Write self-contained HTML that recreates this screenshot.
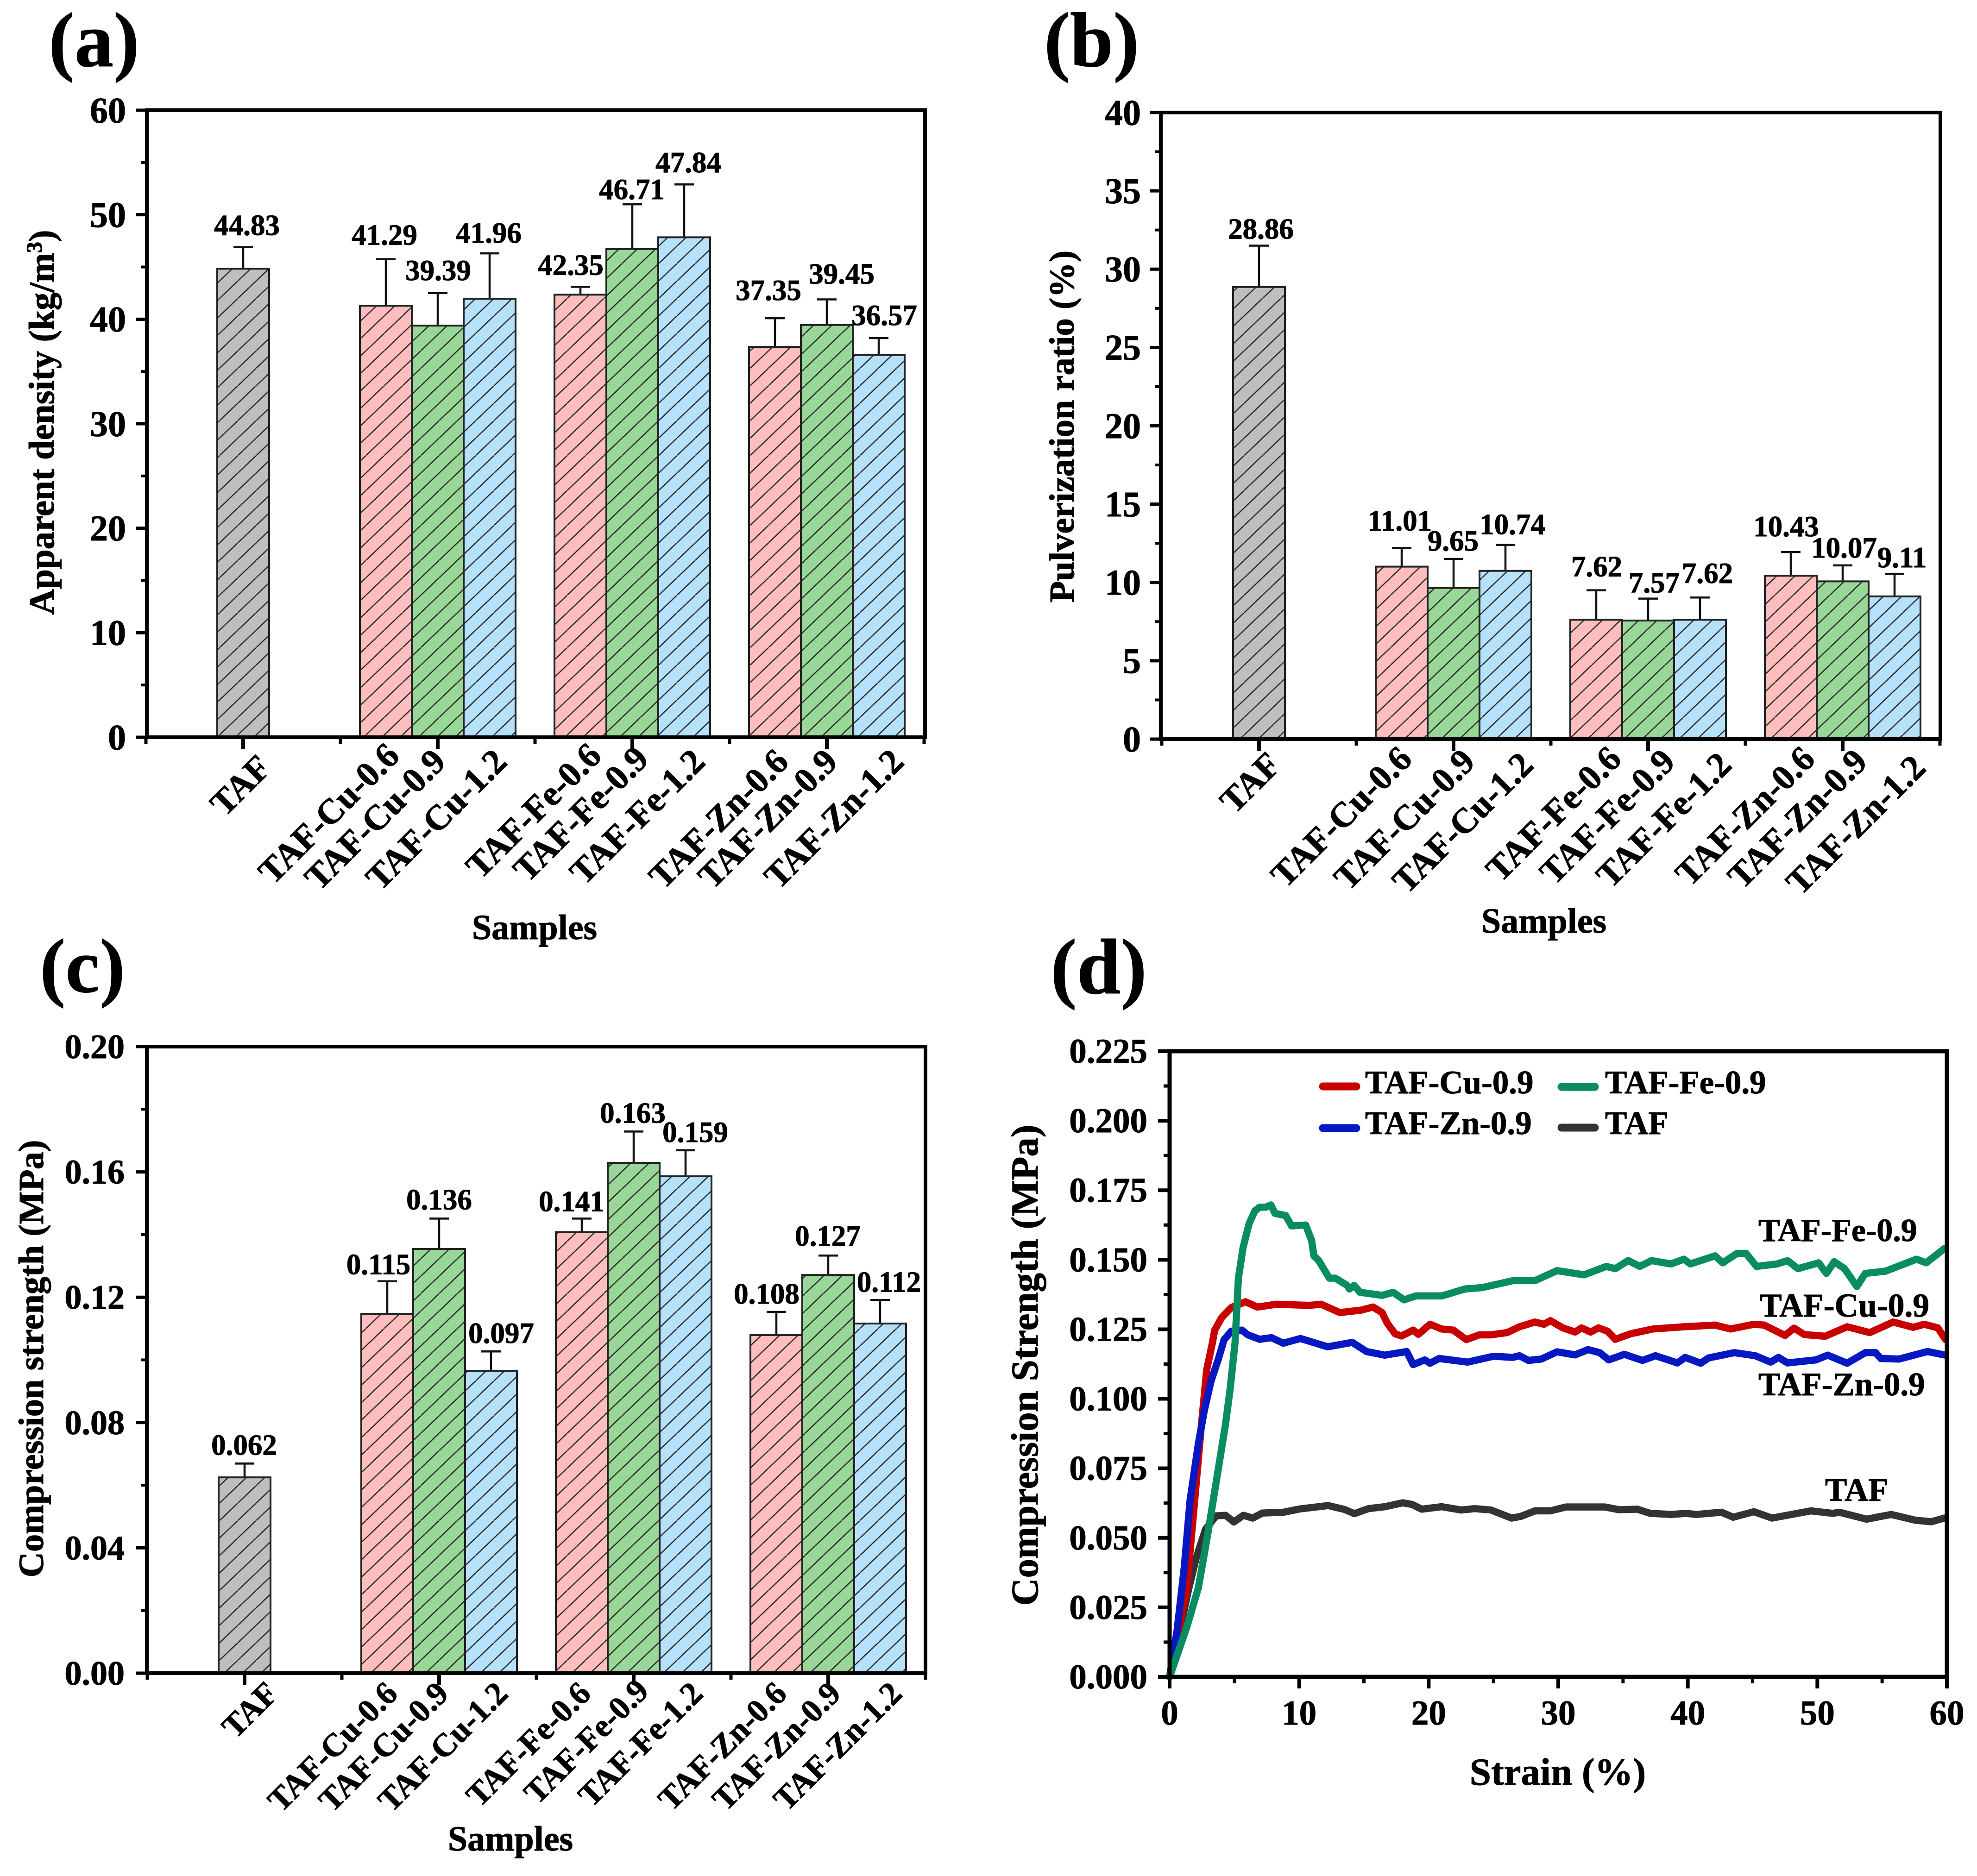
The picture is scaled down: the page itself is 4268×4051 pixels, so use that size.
<!DOCTYPE html>
<html lang="en">
<head>
<meta charset="utf-8">
<title>TAF foam properties</title>
<style>
html,body{margin:0;padding:0;background:#fff;}
svg{display:block;}
text{font-family:"Liberation Serif",serif;font-weight:bold;fill:#000;stroke:#000;stroke-width:1px;}
</style>
</head>
<body>
<svg id="figure" xmlns="http://www.w3.org/2000/svg" width="4268" height="4051" viewBox="0 0 4268 4051">
<defs>
<pattern id="hatch-gray" patternUnits="userSpaceOnUse" width="39.5" height="37.7" patternTransform="translate(0 3.5)"><rect width="39.5" height="37.7" fill="#bebebe"/><path d="M-39.5 37.7L0 0M0 37.7L39.5 0M39.5 37.7L79 0" stroke="#2a2a2a" stroke-width="2.6" fill="none"/></pattern>
<pattern id="hatch-pink" patternUnits="userSpaceOnUse" width="39.5" height="37.7" patternTransform="translate(0 3.5)"><rect width="39.5" height="37.7" fill="#ffbebe"/><path d="M-39.5 37.7L0 0M0 37.7L39.5 0M39.5 37.7L79 0" stroke="#2a2a2a" stroke-width="2.6" fill="none"/></pattern>
<pattern id="hatch-green" patternUnits="userSpaceOnUse" width="39.5" height="37.7" patternTransform="translate(0 3.5)"><rect width="39.5" height="37.7" fill="#98d798"/><path d="M-39.5 37.7L0 0M0 37.7L39.5 0M39.5 37.7L79 0" stroke="#2a2a2a" stroke-width="2.6" fill="none"/></pattern>
<pattern id="hatch-blue" patternUnits="userSpaceOnUse" width="39.5" height="37.7" patternTransform="translate(0 3.5)"><rect width="39.5" height="37.7" fill="#b6e1fb"/><path d="M-39.5 37.7L0 0M0 37.7L39.5 0M39.5 37.7L79 0" stroke="#2a2a2a" stroke-width="2.6" fill="none"/></pattern>
</defs>

<g id="panel-a">
<text x="105" y="143" font-size="168">(a)</text>
<text transform="translate(116 912) rotate(-90)" text-anchor="middle" font-size="77">Apparent density (kg/m<tspan dy="-26" font-size="48">3</tspan><tspan dy="26">)</tspan></text>
<text x="1154" y="2028" text-anchor="middle" font-size="76">Samples</text>
</g>
<g id="panel-b">
<text x="2254" y="143" font-size="168">(b)</text>
<text transform="translate(2318 921) rotate(-90)" text-anchor="middle" font-size="76.5">Pulverization ratio (%)</text>
<text x="3333" y="2014" text-anchor="middle" font-size="76">Samples</text>
</g>
<g id="panel-c">
<text x="86" y="2142" font-size="166">(c)</text>
<text transform="translate(93 2934) rotate(-90)" text-anchor="middle" font-size="76.5">Compression strength (MPa)</text>
<text x="1102" y="3996" text-anchor="middle" font-size="76">Samples</text>
</g>
<g id="panel-d">
<text x="2268" y="2145" font-size="170">(d)</text>
<text transform="translate(2240 2948) rotate(-90)" text-anchor="middle" font-size="83">Compression Strength (MPa)</text>
<text x="3363" y="3854" text-anchor="middle" font-size="83">Strain (%)</text>
<g id="curves-d"></g>
<g id="axes-d"></g>
<g>
<g><line x1="2856" y1="2346" x2="2928" y2="2346" stroke="#c80000" stroke-width="17" stroke-linecap="round"/><text x="2947" y="2361" font-size="71">TAF-Cu-0.9</text></g>
<g><line x1="3371" y1="2347" x2="3443" y2="2347" stroke="#0a8c62" stroke-width="17" stroke-linecap="round"/><text x="3465" y="2361" font-size="71">TAF-Fe-0.9</text></g>
<g><line x1="2856" y1="2436" x2="2928" y2="2436" stroke="#0518c2" stroke-width="17" stroke-linecap="round"/><text x="2947" y="2449" font-size="71">TAF-Zn-0.9</text></g>
<g><line x1="3371" y1="2435" x2="3443" y2="2435" stroke="#333333" stroke-width="17" stroke-linecap="round"/><text x="3465" y="2449" font-size="71">TAF</text></g>
</g>
<text x="3796" y="2680" font-size="70">TAF-Fe-0.9</text>
<text x="3799" y="2843" font-size="71.5">TAF-Cu-0.9</text>
<text x="3796" y="3013" font-size="71">TAF-Zn-0.9</text>
<text x="3940" y="3241" font-size="71">TAF</text>
</g>
</svg>

<script>
const categories = ["TAF","TAF-Cu-0.6","TAF-Cu-0.9","TAF-Cu-1.2","TAF-Fe-0.6","TAF-Fe-0.9","TAF-Fe-1.2","TAF-Zn-0.6","TAF-Zn-0.9","TAF-Zn-1.2"];

const densityValues = [44.83,41.29,39.39,41.96,42.35,46.71,47.84,37.35,39.45,36.57];
const densityErrors = [2.07,4.46,3.11,4.34,0.75,4.29,5.06,2.75,2.45,1.63];
const densityLabels = ["44.83","41.29","39.39","41.96","42.35","46.71","47.84","37.35","39.45","36.57"];
const densityTicks = ["0","10","20","30","40","50","60"];

const pulverValues = [28.86,11.01,9.65,10.74,7.62,7.57,7.62,10.43,10.07,9.11];
const pulverErrors = [2.64,1.19,1.85,1.66,1.88,1.40,1.42,1.51,1.02,1.44];
const pulverLabels = ["28.86","11.01","9.65","10.74","7.62","7.57","7.62","10.43","10.07","9.11"];
const pulverTicks = ["0","5","10","15","20","25","30","35","40"];

const strengthValues = [0.0625,0.1147,0.1354,0.0965,0.1408,0.1629,0.1586,0.1079,0.1271,0.1116];
const strengthErrors = [0.0044,0.0104,0.0097,0.0062,0.0043,0.0100,0.0083,0.0074,0.0062,0.0075];
const strengthLabels = ["0.062","0.115","0.136","0.097","0.141","0.163","0.159","0.108","0.127","0.112"];
const strengthTicks = ["0.00","0.04","0.08","0.12","0.16","0.20"];

const curveXTicks = ["0","10","20","30","40","50","60"];
const curveYTicks = ["0.000","0.025","0.050","0.075","0.100","0.125","0.150","0.175","0.200","0.225"];

const strainCu = [0,1.31,1.86,2.4,2.86,3.3,3.48,4.03,4.76,5.85,6.77,8.23,10.78,11.7,13.15,14.8,15.7,16.4,16.8,17.4,17.9,18.8,19.2,20.1,21,21.9,22.9,23.9,24.8,26.05,27,28.2,28.9,29.4,30.35,31.3,31.8,32.5,33.1,33.8,34.4,35.6,37.3,39.7,42.1,43.3,45.1,45.9,47.5,48.2,49,50.6,52.3,54.05,55.85,57.4,58.25,59.3,59.9];
const stressCu = [0,0.0313,0.0595,0.0878,0.1104,0.1201,0.1247,0.1293,0.1328,0.1349,0.1330,0.1340,0.1336,0.1340,0.1310,0.1319,0.1330,0.1310,0.1272,0.1234,0.1226,0.1247,0.1232,0.1268,0.1251,0.1247,0.1213,0.1230,0.1230,0.1238,0.1259,0.1276,0.1268,0.1281,0.1255,0.1240,0.1255,0.1240,0.1255,0.1243,0.1214,0.1234,0.1251,0.1259,0.1265,0.1251,0.1268,0.1265,0.1228,0.1254,0.1231,0.1225,0.1259,0.1238,0.1276,0.1257,0.1268,0.1255,0.1213];

const strainZn = [0,0.58,1.13,1.58,2.22,2.68,3.2,3.77,4.21,4.76,5.58,6.04,6.95,7.86,8.77,10.1,12.2,14.1,15.2,16.6,18.3,18.8,19.7,20.1,20.8,23,25,26.5,27,27.7,28.7,29.9,31.3,32.3,33.2,33.9,35.1,36.5,37.5,39.2,39.8,41,41.6,43.6,45.2,46.4,47,47.7,49.9,50.8,52.3,53.7,54.5,54.9,56.3,58.5,59.9];
const stressZn = [0,0.0168,0.0394,0.0636,0.0839,0.0959,0.1064,0.1144,0.1213,0.1243,0.1247,0.1230,0.1214,0.1220,0.1200,0.1217,0.1187,0.1203,0.1170,0.1157,0.1170,0.1123,0.1140,0.1128,0.1145,0.1132,0.1153,0.1149,0.1155,0.1138,0.1143,0.1169,0.1158,0.1177,0.1166,0.1140,0.1160,0.1138,0.1155,0.1129,0.1149,0.1128,0.1147,0.1166,0.1155,0.1132,0.1149,0.1129,0.1140,0.1157,0.1128,0.1166,0.1166,0.1145,0.1143,0.1170,0.1157];

const strainFe = [0,1.31,2.22,2.95,3.68,4.32,4.68,5.05,5.31,5.67,6.13,6.58,6.95,7.41,7.82,8.13,8.96,9.41,10.5,10.96,11.14,11.51,12.33,12.79,13.7,13.88,14.25,14.7,16.4,17.25,18.1,19,21,22.8,24.13,26.5,28.2,29.9,32,33.7,34.4,35.4,36.3,37.2,38.7,39.7,40.2,42.1,42.7,43.8,44.5,45.3,46.9,47.7,48.5,50.1,50.7,51.3,52.1,53.05,53.7,55.25,57.65,58.4,59.8];
const stressFe = [0,0.0176,0.0321,0.0515,0.0725,0.0910,0.1039,0.1201,0.1434,0.1544,0.1629,0.1676,0.1689,0.1689,0.1697,0.1667,0.1659,0.1622,0.1625,0.1570,0.1514,0.1497,0.1434,0.1434,0.1408,0.1395,0.1408,0.1383,0.1372,0.1383,0.1356,0.1370,0.1370,0.1395,0.1400,0.1425,0.1425,0.1461,0.1446,0.1476,0.1468,0.1497,0.1476,0.1497,0.1485,0.1502,0.1485,0.1514,0.1489,0.1523,0.1523,0.1476,0.1485,0.1497,0.1468,0.1489,0.1451,0.1493,0.1468,0.1404,0.1451,0.1459,0.1502,0.1489,0.1540];

const strainTaf = [0,1.49,2.04,2.77,3.59,4.32,4.96,5.69,6.42,7.15,8.79,10.07,12.25,13.5,14.26,15.35,16.63,18,18.73,19.46,21,22.5,23.56,24.8,26.4,27.1,28.2,29.4,30.6,33.6,34.7,36.1,37.1,38.7,39.9,40.65,42.6,43.5,45.1,46.5,49.5,51.2,51.7,53.8,55.7,57.6,58.8,59.8];
const stressTaf = [0,0.0320,0.0426,0.0531,0.0579,0.0581,0.0557,0.0581,0.0571,0.0589,0.0592,0.0604,0.0616,0.0602,0.0587,0.0605,0.0612,0.0626,0.0620,0.0603,0.0612,0.0600,0.0605,0.0600,0.0571,0.0577,0.0597,0.0597,0.0611,0.0611,0.0601,0.0603,0.0588,0.0584,0.0588,0.0584,0.0592,0.0574,0.0594,0.0571,0.0597,0.0588,0.0592,0.0567,0.0584,0.0563,0.0558,0.0571];

const SVG_NS = "http://www.w3.org/2000/svg";

function make(tag, attrs, parent) {
  const el = document.createElementNS(SVG_NS, tag);
  for (const key in attrs) el.setAttribute(key, attrs[key]);
  parent.appendChild(el);
  return el;
}

function hatchFor(i) {
  if (i === 0) return "url(#hatch-gray)";
  const slot = (i - 1) % 3;
  return slot === 0 ? "url(#hatch-pink)" : slot === 1 ? "url(#hatch-green)" : "url(#hatch-blue)";
}

function groupPosition(i) {
  if (i === 0) return 0;
  return Math.floor((i - 1) / 3) + 1 + ((i - 1) % 3 - 1) * (112 / 420);
}

function drawBarPanel(cfg) {
  const root = document.getElementById(cfg.rootId);
  const yMax = parseFloat(cfg.ticks[cfg.ticks.length - 1]);
  const xScale = function (pos) { return cfg.x0 + pos * 420; };
  const yScale = function (v) { return cfg.bottom - v / yMax * (cfg.bottom - cfg.top); };

  cfg.values.forEach(function (v, i) {
    const cx = xScale(groupPosition(i));
    const slug = categories[i].toLowerCase();
    const errTop = yScale(v + cfg.errors[i]);

    const whisker = make("line", {x1: cx, x2: cx, y1: yScale(v), y2: errTop, stroke: "#111", "stroke-width": 4.5}, root);
    
    

    const cap = make("line", {x1: cx - 21, x2: cx + 21, y1: errTop, y2: errTop, stroke: "#111", "stroke-width": 4.5}, root);
    
    

    const bar = make("rect", {x: cx - 56, y: yScale(v), width: 112, height: cfg.bottom - yScale(v), fill: hatchFor(i), stroke: "#222", "stroke-width": 4}, root);
    
    

    const valueText = make("text", {x: cx + cfg.valueDx[i], y: errTop + cfg.valueDy[i] + 21, "text-anchor": "middle", "font-size": 63}, root);
    valueText.textContent = cfg.labels[i];
    
    

    const catText = make("text", {
      transform: "translate(" + (cx + cfg.catDx[i] + 6) + " " + (cfg.catY[i] - 3) + ") rotate(-45)",
      "text-anchor": "end",
      "font-size": cfg.catSize
    }, root);
    catText.textContent = categories[i];
    
    
  });

  const frame = make("rect", {x: cfg.left, y: cfg.top, width: cfg.right - cfg.left, height: cfg.bottom - cfg.top, fill: "none", stroke: "#000", "stroke-width": 8}, root);
  
  

  cfg.ticks.forEach(function (label, k) {
    const v = parseFloat(label);
    const tick = make("line", {x1: cfg.left - 24, x2: cfg.left, y1: yScale(v), y2: yScale(v), stroke: "#000", "stroke-width": 7}, root);
    
    

    const tickText = make("text", {x: cfg.tickRight, y: yScale(v) + cfg.tickSize * 0.338, "text-anchor": "end", "font-size": cfg.tickSize}, root);
    tickText.textContent = label;
    
    

    if (k < cfg.ticks.length - 1) {
      const mid = (v + parseFloat(cfg.ticks[k + 1])) / 2;
      const minor = make("line", {x1: cfg.left - 12, x2: cfg.left, y1: yScale(mid), y2: yScale(mid), stroke: "#000", "stroke-width": 6}, root);
      
      
    }
  });

  [0, 1, 2, 3].forEach(function (pos) {
    const tick = make("line", {x1: xScale(pos), x2: xScale(pos), y1: cfg.bottom, y2: cfg.bottom + 26, stroke: "#000", "stroke-width": 8}, root);
    
    
  });
  [-0.5, 0.5, 1.5, 2.5, 3.5].forEach(function (pos) {
    const minor = make("line", {x1: xScale(pos), x2: xScale(pos), y1: cfg.bottom, y2: cfg.bottom + 14, stroke: "#000", "stroke-width": 7}, root);
    
    
  });
}

drawBarPanel({
  key: "a", rootId: "panel-a",
  values: densityValues, errors: densityErrors, labels: densityLabels, ticks: densityTicks,
  x0: 525, left: 317, right: 1997, top: 238, bottom: 1592, tickRight: 272, tickSize: 78, catSize: 76.5,
  valueDx: [8,-3,1,-2,-21,-1,9,-14,32,12],
  valueDy: [-47,-52,-49,-44,-47,-32,-47,-60,-55,-49],
  catDx: [58,27,15,35,43,33,43,27,21,52],
  catY: [1665,1639,1652,1652,1639,1646,1652,1652,1652,1652]
});

drawBarPanel({
  key: "b", rootId: "panel-b",
  values: pulverValues, errors: pulverErrors, labels: pulverLabels, ticks: pulverTicks,
  x0: 2718, left: 2506, right: 4189, top: 243, bottom: 1596, tickRight: 2463, tickSize: 78, catSize: 76.5,
  valueDx: [4,-4,-1,15,1,13,16,-10,3,16],
  valueDy: [-36,-59,-39,-44,-51,-34,-52,-55,-38,-35],
  catDx: [45,20,44,58,52,56,66,50,51,65],
  catY: [1659,1646,1652,1659,1646,1652,1659,1646,1652,1665]
});

drawBarPanel({
  key: "c", rootId: "panel-c",
  values: strengthValues, errors: strengthErrors, labels: strengthLabels, ticks: strengthTicks,
  x0: 528, left: 317, right: 1998, top: 2260, bottom: 3613, tickRight: 269, tickSize: 74, catSize: 70.5,
  valueDx: [-1,-19,0,22,-22,-2,21,-21,-1,19],
  valueDy: [-40,-36,-41,-39,-37,-40,-39,-39,-42,-39],
  catDx: [70,20,18,34,17,30,35,20,25,45],
  catY: [3664,3664,3664,3664,3664,3658,3664,3664,3664,3664]
});

function drawCurvePanel() {
  const left = 2525, right = 4203, top = 2270, bottom = 3621;
  const xMax = parseFloat(curveXTicks[curveXTicks.length - 1]);
  const yMax = parseFloat(curveYTicks[curveYTicks.length - 1]);
  const xScale = function (v) { return left + v / xMax * (right - left); };
  const yScale = function (v) { return bottom - v / yMax * (bottom - top); };
  const curves = document.getElementById("curves-d");
  const axes = document.getElementById("axes-d");

  function drawCurve(xs, ys, color, name) {
    const pts = xs.map(function (x, i) { return xScale(x).toFixed(1) + "," + yScale(ys[i]).toFixed(1); }).join(" ");
    const line = make("polyline", {points: pts, fill: "none", stroke: color, "stroke-width": 15.5, "stroke-linejoin": "round", "stroke-linecap": "round"}, curves);
    
    
  }
  drawCurve(strainTaf, stressTaf, "#333333", "curve-taf");
  drawCurve(strainCu, stressCu, "#c80000", "curve-taf-cu-0.9");
  drawCurve(strainZn, stressZn, "#0518c2", "curve-taf-zn-0.9");
  drawCurve(strainFe, stressFe, "#0a8c62", "curve-taf-fe-0.9");

  const frame = make("rect", {x: left, y: top, width: right - left, height: bottom - top, fill: "none", stroke: "#000", "stroke-width": 9}, axes);
  
  

  curveYTicks.forEach(function (label, k) {
    const v = parseFloat(label);
    const tick = make("line", {x1: left - 25, x2: left, y1: yScale(v), y2: yScale(v), stroke: "#000", "stroke-width": 8}, axes);
    
    

    const tickText = make("text", {x: 2477, y: yScale(v) + 25, "text-anchor": "end", "font-size": 75}, axes);
    tickText.textContent = label;
    
    

    if (k < curveYTicks.length - 1) {
      const mid = (v + parseFloat(curveYTicks[k + 1])) / 2;
      const minor = make("line", {x1: left - 13, x2: left, y1: yScale(mid), y2: yScale(mid), stroke: "#000", "stroke-width": 7}, axes);
      
      
    }
  });

  curveXTicks.forEach(function (label, k) {
    const v = parseFloat(label);
    const tick = make("line", {x1: xScale(v), x2: xScale(v), y1: bottom, y2: bottom + 25, stroke: "#000", "stroke-width": 8}, axes);
    
    

    const tickText = make("text", {x: xScale(v), y: 3724, "text-anchor": "middle", "font-size": 75}, axes);
    tickText.textContent = label;
    
    

    if (k < curveXTicks.length - 1) {
      const mid = (v + parseFloat(curveXTicks[k + 1])) / 2;
      const minor = make("line", {x1: xScale(mid), x2: xScale(mid), y1: bottom, y2: bottom + 14, stroke: "#000", "stroke-width": 7}, axes);
      
      
    }
  });
}
drawCurvePanel();
</script>
</body>
</html>
